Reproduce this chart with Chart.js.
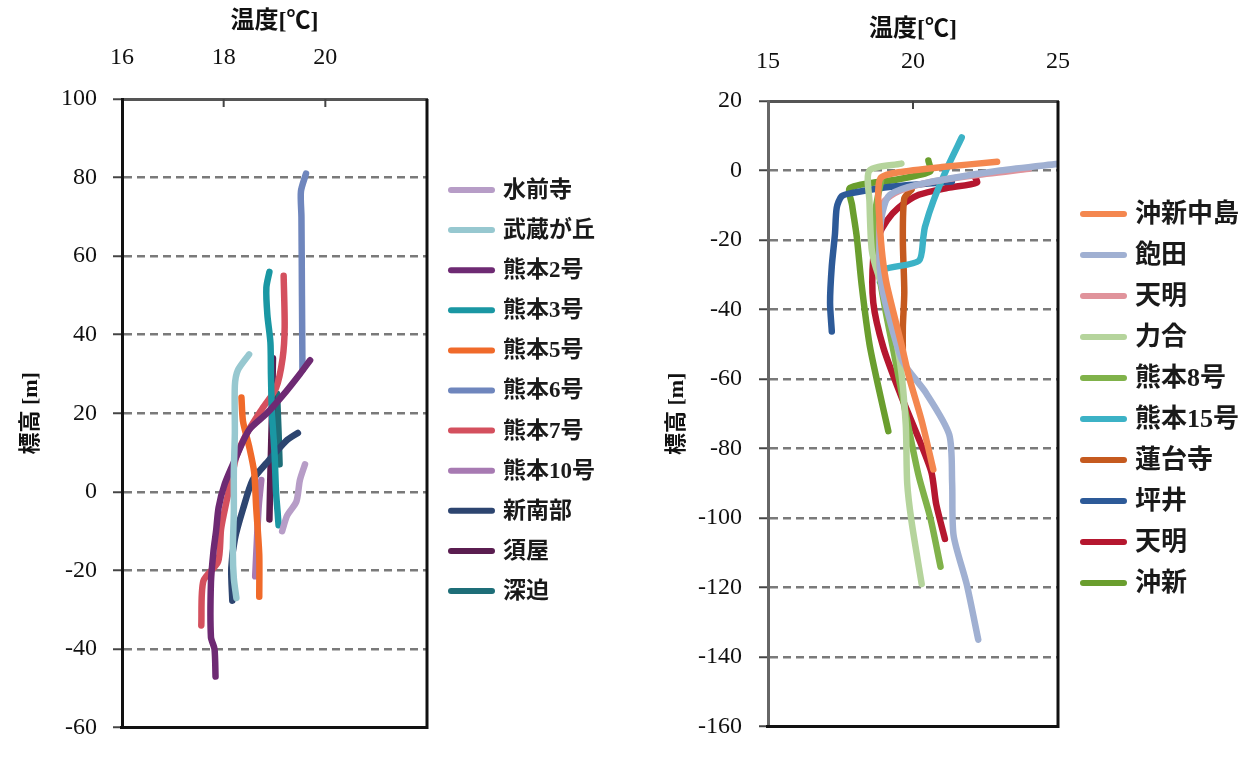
<!DOCTYPE html>
<html lang="ja">
<head>
<meta charset="utf-8">
<title>温度プロファイル</title>
<script src="https://cdn.jsdelivr.net/npm/chart.js@4.4.1/dist/chart.umd.min.js"></script>
<style>
  body { margin: 0; background: #fff; }
  canvas { position: absolute; top: 0; }
  #left { left: 0; }
  #right { left: 628px; }
</style>
</head>
<body>
<canvas id="left" width="628" height="758"></canvas>
<canvas id="right" width="629" height="758"></canvas>
<script>
// 左図: [温度, 標高]
const leftNames = ["水前寺", "武蔵が丘", "熊本2号", "熊本3号", "熊本5号", "熊本6号", "熊本7号", "熊本10号", "新南部", "須屋", "深迫"];
const leftColors = ["#b79dc7", "#97c8d0", "#6e2a73", "#1a97a3", "#f06a2a", "#6f86bd", "#d4505e", "#a77ab2", "#2d4570", "#5a1d50", "#1e6e78"];
const suizenji = [[19.6, 7], [19.5, 3], [19.43, -2.5], [19.25, -6], [19.15, -10]];
const musashigaoka = [[18.5, 35], [18.28, 31], [18.22, 27], [18.22, 15], [18.2, 5], [18.2, -5], [18.18, -15], [18.2, -22], [18.25, -27]];
const kumamoto2 = [[19.7, 33.5], [19.5, 30], [19.23, 25.6], [18.85, 20], [18.5, 15.8], [18.25, 9], [18.02, 2], [17.9, -4], [17.85, -10], [17.8, -15], [17.75, -23], [17.75, -37], [17.82, -40], [17.84, -47]];
const kumamoto3 = [[18.9, 56], [18.84, 52], [18.86, 45], [18.92, 38], [18.93, 30], [18.95, 20], [19.0, 10], [19.03, 0], [19.06, -5], [19.08, -8.5]];
const kumamoto5 = [[18.35, 24], [18.38, 18], [18.5, 11.6], [18.6, 5], [18.64, -4], [18.7, -16], [18.7, -26.7]];
const kumamoto6 = [[19.62, 81], [19.52, 76.5], [19.53, 70], [19.54, 50], [19.55, 31]];
const kumamoto7 = [[19.18, 55], [19.2, 42], [19.16, 34], [19.03, 26.4], [18.77, 21.4], [18.45, 14.8], [18.25, 9], [18.15, 3], [18.05, -2.8], [17.95, -9.4], [17.89, -17.8], [17.6, -22.7], [17.56, -34]];
const kumamoto10 = [[18.74, 3], [18.69, -3.6], [18.64, -16], [18.62, -21.5]];
const shinnanbu = [[19.46, 15], [19.23, 13], [18.84, 7.3], [18.57, 3], [18.38, -4.4], [18.22, -12], [18.15, -19.4], [18.17, -27.7]];
const suya = [[18.97, 34], [18.95, 20], [18.92, 5], [18.9, -7]];
const fukasako = [[19.05, 25], [19.08, 15], [19.1, 7]];

// 右図: [温度, 標高]
const rightNames = ["沖新中島", "飽田", "天明", "力合", "熊本8号", "熊本15号", "蓮台寺", "坪井", "天明", "沖新"];
const rightColors = ["#f4874f", "#a0b0d2", "#e0939b", "#b5d49c", "#80b24a", "#3cb2c6", "#c55a1f", "#2d5a98", "#b5172f", "#6a9e2e"];
const okishinNakajima = [[22.9, 2.5], [21, 1], [19.5, -0.5], [18.9, -2], [18.8, -6], [18.85, -15], [18.95, -25], [19.1, -33], [19.6, -50], [19.85, -59], [20.3, -72], [20.7, -86]];
const akita = [[25.1, 2], [23, 0], [20.2, -4], [19.2, -7], [18.95, -12], [18.85, -20], [18.9, -32], [19.2, -43], [19.65, -55], [20.45, -64], [21.25, -76], [21.35, -90], [21.4, -105], [21.85, -119], [22.25, -135]];
const tenmei1 = [[24, 0.5], [22, -1.5], [20.5, -3.5], [19.5, -6], [19.0, -9], [18.85, -15], [18.85, -28]];
const rikigo = [[19.6, 2], [18.5, 0], [18.5, -9], [18.58, -23], [18.8, -30], [19.1, -36], [19.55, -55], [19.75, -73], [19.8, -90], [19.95, -101], [20.3, -119]];
const kumamoto8 = [[18.9, -3], [18.7, -12], [18.75, -25], [19.0, -38], [19.4, -55], [19.8, -72], [20.2, -88], [20.6, -100], [20.95, -114]];
const kumamoto15 = [[21.68, 9.5], [21.22, 1.5], [20.7, -8.8], [20.41, -16.3], [20.36, -19], [20.2, -26], [19.0, -28.5], [18.86, -32]];
const rendaiji = [[19.95, -5.5], [19.7, -8], [19.65, -20], [19.7, -35], [19.65, -45], [19.65, -54]];
const tsuboi = [[21.34, -3.2], [19.32, -4.6], [17.94, -6.4], [17.54, -7.4], [17.37, -10.7], [17.31, -18.2], [17.2, -27.5], [17.14, -38], [17.2, -46.3]];
const tenmei2 = [[22.1, -1.3], [22.2, -3.5], [21.2, -5], [20.2, -7], [19.5, -10.7], [19.1, -14.4], [18.8, -19], [18.63, -25], [18.63, -38], [18.98, -51], [19.55, -64], [20.24, -78], [20.64, -87], [20.8, -96], [21.1, -106]];
const okishin = [[20.53, 2.9], [20.59, -0.3], [19.5, -2.5], [17.83, -5], [17.9, -10], [18.06, -19], [18.23, -33], [18.5, -50], [18.8, -62], [19.15, -75]];

const leftSeries = [suizenji, musashigaoka, kumamoto2, kumamoto3, kumamoto5, kumamoto6, kumamoto7, kumamoto10, shinnanbu, suya, fukasako];
const rightSeries = [okishinNakajima, akita, tenmei1, rikigo, kumamoto8, kumamoto15, rendaiji, tsuboi, tenmei2, okishin];

const textFont = '"Liberation Serif", "Noto Sans CJK JP", serif';

// 凡例 (線+名前)
const sideLegend = {
  id: 'sideLegend',
  afterDraw(chart, args, opts) {
    const ctx = chart.ctx;
    ctx.save();
    ctx.font = 'bold ' + opts.size + 'px ' + textFont;
    ctx.textBaseline = 'middle';
    chart.data.datasets.forEach((ds, i) => {
      const y = opts.top + i * opts.step;
      ctx.strokeStyle = ds.borderColor;
      ctx.lineWidth = 6;
      ctx.lineCap = 'round';
      ctx.beginPath();
      ctx.moveTo(opts.x + 3, y);
      ctx.lineTo(opts.x + 44, y);
      ctx.stroke();
      ctx.fillStyle = '#1a1a1a';
      ctx.fillText(ds.label, opts.x + opts.gap, y + 1);
    });
    ctx.restore();
  }
};

// 右と下の枠, 上軸の内向き目盛
const frame = {
  id: 'frame',
  afterDraw(chart, args, opts) {
    const {ctx, chartArea: a} = chart;
    const x = chart.scales.x;
    ctx.save();
    ctx.strokeStyle = opts.color;
    ctx.lineWidth = 3;
    ctx.beginPath();
    ctx.moveTo(a.right, a.top);
    ctx.lineTo(a.right, a.bottom);
    ctx.lineTo(a.left - 2, a.bottom);
    ctx.stroke();
    ctx.strokeStyle = '#444';
    ctx.lineWidth = 2;
    x.ticks.forEach((t, i) => {
      const px = x.getPixelForTick(i);
      if (px <= a.left + 2 || px >= a.right - 2) return;
      ctx.beginPath();
      ctx.moveTo(px, a.top);
      ctx.lineTo(px, a.top + 8);
      ctx.stroke();
    });
    ctx.restore();
  }
};

function makeChart(id, names, colors, series, o) {
  const datasets = series.map((s, i) => ({
    label: names[i],
    data: s.map(p => ({ x: p[0], y: p[1] })),
    borderColor: colors[i],
    backgroundColor: colors[i],
    showLine: true,
    borderWidth: 6.5,
    pointRadius: 0,
    tension: 0.25,
    borderCapStyle: 'round',
    borderJoinStyle: 'round'
  }));

  return new Chart(document.getElementById(id), {
    type: 'scatter',
    data: { datasets: datasets },
    options: {
      responsive: false,
      animation: false,
      layout: { padding: { top: 0, left: 0, right: o.padRight, bottom: 17 } },
      plugins: {
        legend: { display: false },
        tooltip: { enabled: false },
        sideLegend: { x: o.legendX, top: o.legendTop, step: o.legendStep, size: o.legendSize, gap: o.legendGap },
        frame: { color: '#111' }
      },
      scales: {
        x: {
          type: 'linear',
          position: 'top',
          min: o.xMin,
          max: o.xMax,
          afterFit: s => { s.height = o.top; },
          ticks: {
            stepSize: o.xStep,
            padding: o.xTickPad,
            color: '#111',
            font: { family: textFont, size: 24 },
            callback: v => (o.hideLast && v === o.xMax) ? '' : v
          },
          grid: { display: false },
          border: { display: true, color: '#555', width: 3 },
          title: {
            display: true,
            text: '温度[℃]',
            color: '#111',
            font: { family: textFont, size: 24, weight: 'bold' },
            padding: { top: o.xTitlePad, bottom: 0 }
          }
        },
        y: {
          type: 'linear',
          position: 'left',
          min: o.yMin,
          max: o.yMax,
          afterFit: s => { s.width = o.left; },
          ticks: {
            stepSize: 20,
            padding: o.yTickPad,
            color: '#111',
            font: { family: textFont, size: 24 }
          },
          grid: {
            color: c => (c.tick && (c.tick.value === o.yMin || c.tick.value === o.yMax)) ? 'rgba(0,0,0,0)' : '#7a7a7a',
            lineWidth: 2.5,
            tickLength: 9,
            tickColor: '#444',
            tickWidth: 2
          },
          border: { display: true, color: o.yBorder, width: 3, dash: [8, 5] },
          title: {
            display: true,
            text: '標高 [m]',
            color: '#111',
            font: { family: textFont, size: 22, weight: 'bold' },
            padding: { top: o.yTitlePad, bottom: 0 }
          }
        }
      }
    },
    plugins: [sideLegend, frame]
  });
}

makeChart('left', leftNames, leftColors, leftSeries, {
  xMin: 16, xMax: 22, xStep: 2, hideLast: true,
  yMin: -60, yMax: 100,
  top: 99, left: 122, padRight: 201,
  xTickPad: 19, xTitlePad: 7, yTickPad: 16, yTitlePad: 18,
  yBorder: '#111',
  legendX: 448, legendTop: 190, legendStep: 40.1, legendSize: 23, legendGap: 55
});

makeChart('right', rightNames, rightColors, rightSeries, {
  xMin: 15, xMax: 25, xStep: 5, hideLast: false,
  yMin: -160, yMax: 20,
  top: 101, left: 140, padRight: 199,
  xTickPad: 17, xTitlePad: 15, yTickPad: 17, yTitlePad: 36,
  yBorder: '#666',
  legendX: 452, legendTop: 214, legendStep: 41, legendSize: 26, legendGap: 55
});
</script>
</body>
</html>
